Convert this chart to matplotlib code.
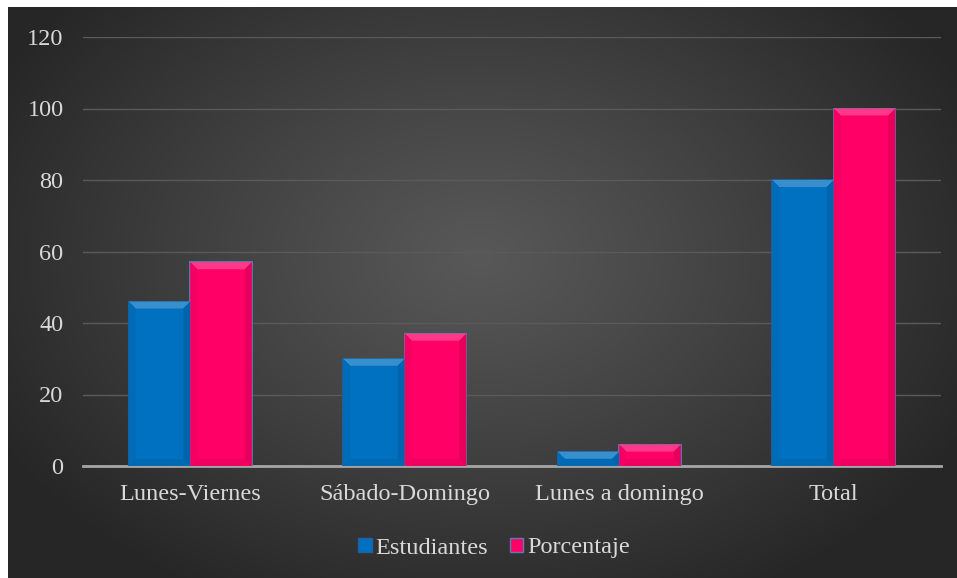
import numpy as np
import matplotlib
matplotlib.use('Agg')
import matplotlib.pyplot as plt
from matplotlib.patches import Polygon, Rectangle
from matplotlib.colors import to_rgb

# datos
categorias = ['Lunes-Viernes', 'Sábado-Domingo', 'Lunes a domingo', 'Total']
estudiantes = [46, 30, 4, 80]
porcentaje = [57, 37, 6, 100]
series = [('Estudiantes', estudiantes), ('Porcentaje', porcentaje)]

colores = ['#0070C0', '#FF0066']
bordes = ['#2060a0', '#5a7fb8']
texto = '#d9d9d9'
fuente = 'Liberation Serif'
tam = 17.5

W, H = 957, 578
fig = plt.figure(figsize=(W / 100, H / 100), dpi=100, facecolor='white')

# fondo con degradado radial
bg = fig.add_axes([8 / W, 0, 1 - 8 / W, 1 - 7 / H])
bg.set_axis_off()
yy, xx = np.mgrid[0:571, 0:949]
r = np.sqrt(((xx - 470) / 540.0) ** 2 + ((yy - 250) / 380.0) ** 2)
r = np.clip(r, 0, 1)
centro, borde = 0x58 / 255, 0x27 / 255
val = centro + (borde - centro) * r ** 1.1
img = np.dstack([val, val, val])
bg.imshow(img, aspect='auto', extent=[0, 1, 0, 1], origin='upper')
bg.set_xlim(0, 1)
bg.set_ylim(0, 1)

ax = fig.add_axes([83 / W, (H - 466) / H, (941 - 83) / W, (466 - 37) / H])
ax.set_facecolor('none')
ax.set_ylim(0, 120)
ax.set_xlim(-0.5, len(categorias) - 0.5)
ax.set_yticks(np.arange(0, 121, 20))
ax.yaxis.grid(True, color='#5a5a5a', linewidth=1.0)
ax.set_axisbelow(True)
for s in ['top', 'right', 'left']:
    ax.spines[s].set_visible(False)
ax.spines['bottom'].set_color('#a6a6a6')
ax.spines['bottom'].set_linewidth(2.0)
ax.tick_params(axis='both', length=0, labelsize=tam, labelcolor=texto)
ax.tick_params(axis='y', pad=14)
ax.tick_params(axis='x', pad=13)
ax.set_xticks(range(len(categorias)))
ax.set_xticklabels(categorias, fontfamily=fuente)
for t in ax.get_yticklabels():
    t.set_fontfamily(fuente)

ancho = 0.287
x = np.arange(len(categorias))
barras = []
for i, (nombre, valores) in enumerate(series):
    desp = (i - 0.5) * ancho
    b = ax.bar(x + desp, valores, ancho, color=colores[i], edgecolor=bordes[i],
               linewidth=1.3, label=nombre, zorder=3)
    barras.append(b)


def mezclar(c, o, f):
    c, o = np.array(to_rgb(c)), np.array(to_rgb(o))
    return tuple(c + (o - c) * f)


# biselado de las barras
inv = ax.transData.inverted()
for i, b in enumerate(barras):
    base = colores[i]
    claro = mezclar(base, '#ffffff', 0.22)
    oscuro = mezclar(base, '#000000', 0.10)
    for rect in b:
        x0, y0 = rect.get_x(), rect.get_y()
        x1, y1 = x0 + rect.get_width(), y0 + rect.get_height()
        (px0, py0), (px1, py1) = ax.transData.transform([(x0, y0), (x1, y1)])
        d = min(7.0, (py1 - py0) / 2.0)
        caras = [
            ([(px0, py1), (px1, py1), (px1 - d, py1 - d), (px0 + d, py1 - d)], claro),
            ([(px0, py0), (px0, py1), (px0 + d, py1 - d), (px0 + d, py0 + d)], mezclar(base, '#000000', 0.04)),
            ([(px1, py0), (px1, py1), (px1 - d, py1 - d), (px1 - d, py0 + d)], oscuro),
            ([(px0, py0), (px1, py0), (px1 - d, py0 + d), (px0 + d, py0 + d)], mezclar(base, '#000000', 0.06)),
        ]
        for pts, c in caras:
            ax.add_patch(Polygon(inv.transform(pts), closed=True, facecolor=c,
                                 edgecolor='none', zorder=3.5))

leg = fig.legend(handles=[Rectangle((0, 0), 1, 1, facecolor=colores[k], edgecolor=bordes[k])
                          for k in range(2)],
                 labels=[s[0] for s in series], loc='center',
                 bbox_to_anchor=(494 / W, (H - 548) / H), ncol=2, frameon=False,
                 handlelength=0.55, handleheight=0.55, handletextpad=0.15,
                 columnspacing=0.9, prop={'family': fuente, 'size': tam})
for t in leg.get_texts():
    t.set_color(texto)

fig.savefig('out.png', dpi=100, facecolor='white')
